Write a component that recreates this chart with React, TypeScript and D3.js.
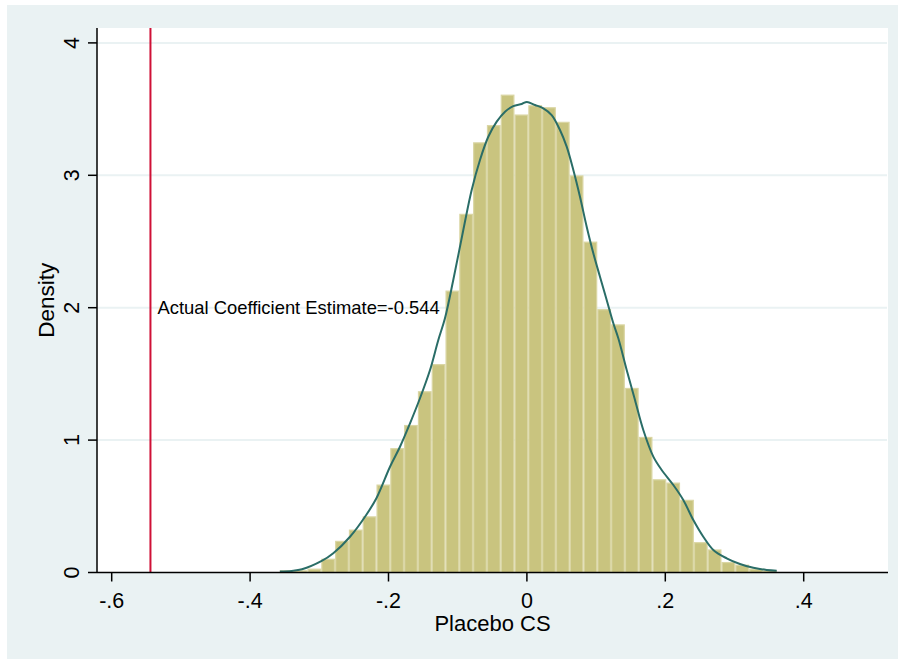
import React from "react";
import * as d3 from "d3";

// ---- data ----
const binStart = -0.357;
const binWidth = 0.019944;
const binHeights = [
  0.0125, 0.0125, 0.025, 0.1, 0.235, 0.32, 0.42, 0.66, 0.935, 1.11, 1.365, 1.57,
  2.125, 2.705, 3.245, 3.375, 3.605, 3.455, 3.525, 3.51, 3.4, 2.995, 2.495, 1.985,
  1.87, 1.39, 1.02, 0.7, 0.675, 0.545, 0.225, 0.17, 0.075, 0.055, 0.025, 0.0125,
];
const kdeX = [
  -0.357, -0.34, -0.325, -0.2965, -0.2798, -0.2556, -0.2315, -0.2171, -0.1978, -0.1834,
  -0.1689, -0.1545, -0.14, -0.128, -0.1184, -0.1064, -0.0919, -0.0798, -0.0678, -0.0558,
  -0.0436, -0.0316, -0.0197, -0.0075, 0.0, 0.0117, 0.0237, 0.0358, 0.0478, 0.0575,
  0.0671, 0.0767, 0.0864, 0.096, 0.1056, 0.1153, 0.1249, 0.1321, 0.1442, 0.1562,
  0.1682, 0.1827, 0.1948, 0.2116, 0.226, 0.2405, 0.2549, 0.2694, 0.2887, 0.3079,
  0.3272, 0.3465, 0.361,
];
const kdeY = [
  0.008, 0.012, 0.024, 0.087, 0.145, 0.27, 0.44, 0.565, 0.799, 0.95,
  1.127, 1.316, 1.529, 1.756, 1.92, 2.209, 2.587, 2.889, 3.116, 3.291,
  3.405, 3.48, 3.523, 3.539, 3.554, 3.531, 3.506, 3.455, 3.342, 3.216,
  3.04, 2.838, 2.612, 2.411, 2.234, 2.058, 1.882, 1.769, 1.53, 1.303,
  1.076, 0.875, 0.774, 0.661, 0.548, 0.396, 0.27, 0.17, 0.107, 0.064,
  0.036, 0.019, 0.014,
];
const xTicks = [-0.6, -0.4, -0.2, 0, 0.2, 0.4];
const xTickLabels = ["-.6", "-.4", "-.2", "0", ".2", ".4"];
const yTicks = [0, 1, 2, 3, 4];
const actualEstimate = -0.544;
const annotationText = "Actual Coefficient Estimate=-0.544";
const annotationY = 2;

const W = 898;
const H = 659;
const font = "'Liberation Sans', Arial, Helvetica, sans-serif";

export default function App() {
  const x = d3.scaleLinear().domain([-0.62124, 0.52182]).range([97, 888]);
  const y = d3.scaleLinear().domain([0, 4.1125]).range([572.5, 28]);
  const [x0, x1] = x.range();
  const [yb, yt] = y.range();

  const line = d3
    .line<number>()
    .x((_, i) => x(kdeX[i]))
    .y((d) => y(d))
    .curve(d3.curveCatmullRom.alpha(0.5));

  return (
    <svg
      width={W}
      height={H}
      style={{ position: "absolute", left: 0, top: 0 }}
      fontFamily={font}
    >
      <rect x={0} y={0} width={W} height={H} fill="#ffffff" />
      <rect x={7} y={5} width={W - 7} height={H - 5} fill="#eaf2f3" />
      <rect x={x0} y={yt} width={x1 - x0} height={yb - yt} fill="#ffffff" />

      {/* grid */}
      {yTicks
        .filter((t) => t > 0)
        .map((t) => (
          <line
            key={"g" + t}
            x1={x0}
            x2={x1 - 1}
            y1={y(t)}
            y2={y(t)}
            stroke="#eaf2f3"
            strokeWidth={2}
          />
        ))}

      {/* bars */}
      {binHeights.map((h, i) => {
        const a = x(binStart + i * binWidth);
        const b = x(binStart + (i + 1) * binWidth);
        return (
          <rect
            key={"b" + i}
            x={a + 0.6}
            y={y(h)}
            width={b - a - 1.2}
            height={yb - y(h)}
            fill="#c9c47f"
            stroke="#dad6a4"
            strokeWidth={1.2}
          />
        );
      })}

      {/* kde */}
      <path
        d={line(kdeY) || ""}
        fill="none"
        stroke="#2a6d67"
        strokeWidth={2}
      />

      {/* actual estimate line */}
      <line
        x1={x(actualEstimate)}
        x2={x(actualEstimate)}
        y1={yt}
        y2={yb}
        stroke="#cf1036"
        strokeWidth={2}
      />
      <text
        x={x(actualEstimate) + 7}
        y={y(annotationY)}
        dominantBaseline="central"
        fontSize={18.4}
        fill="#000"
      >
        {annotationText}
      </text>

      {/* axes */}
      <line x1={x0} x2={x1} y1={yb} y2={yb} stroke="#000" strokeWidth={1.5} />
      <line x1={x0} x2={x0} y1={yt} y2={yb} stroke="#000" strokeWidth={1.5} />
      {xTicks.map((t, i) => (
        <g key={"xt" + i}>
          <line x1={x(t)} x2={x(t)} y1={yb} y2={yb + 9} stroke="#000" strokeWidth={1.5} />
          <text x={x(t)} y={608} textAnchor="middle" fontSize={21.5} fill="#000">
            {xTickLabels[i]}
          </text>
        </g>
      ))}
      {yTicks.map((t) => (
        <g key={"yt" + t}>
          <line x1={x0 - 9} x2={x0} y1={y(t)} y2={y(t)} stroke="#000" strokeWidth={1.5} />
          <text
            transform={`translate(78.5,${y(t)}) rotate(-90)`}
            textAnchor="middle"
            fontSize={21.5}
            fill="#000"
          >
            {String(t)}
          </text>
        </g>
      ))}
      <text x={(x0 + x1) / 2} y={631} textAnchor="middle" fontSize={22} fill="#000">
        Placebo CS
      </text>
      <text
        transform={`translate(54,${(yt + yb) / 2}) rotate(-90)`}
        textAnchor="middle"
        fontSize={22.5}
        fill="#000"
      >
        Density
      </text>
    </svg>
  );
}
